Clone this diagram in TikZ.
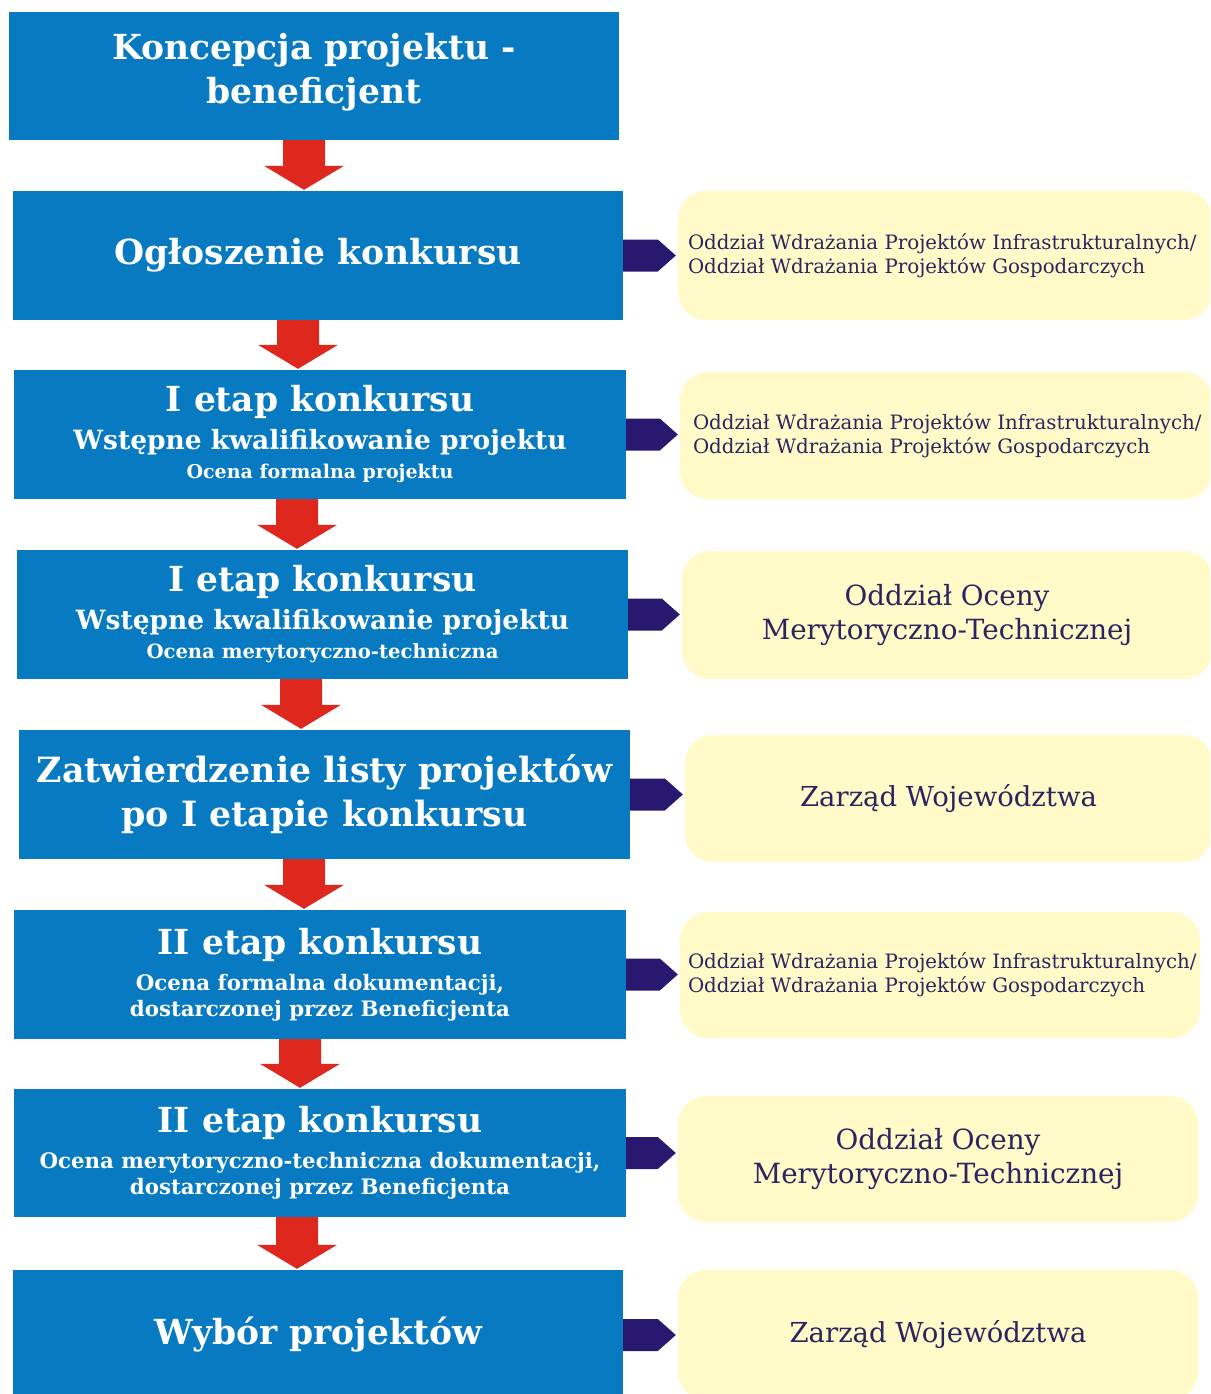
\documentclass[tikz,border=0pt]{standalone}
\usepackage{fontspec}
\setmainfont{DejaVu Serif}
\usetikzlibrary{calc}
\setlength\parindent{0pt}
\hfuzz=100pt
\definecolor{boxblue}{RGB}{8,122,193}
\definecolor{boxyellow}{RGB}{255,250,200}
\definecolor{arrred}{RGB}{222,40,30}
\definecolor{arrnavy}{RGB}{40,24,112}
\definecolor{txtnavy}{RGB}{45,35,95}
\newcommand\fsz[2]{\fontsize{#1}{#2}\selectfont}
\newcommand\wdrazanie{\fsz{19.8}{24}\mbox{Oddział Wdrażania Projektów Infrastrukturalnych/}\\\mbox{Oddział Wdrażania Projektów Gospodarczych}\par}
% red block arrow between two stages: from, to, x centre (pt)
\newcommand\flowarrow[3]{%
 \fill[arrred] let \p1=(#1.south), \p2=(#2.north) in
  ({#3pt-21pt},\y1) -- ({#3pt+21pt},\y1) -- ({#3pt+21pt},{\y2+25pt}) --
  ({#3pt+40pt},{\y2+25pt}) -- (#3pt,{\y2+1pt}) -- ({#3pt-40pt},{\y2+25pt}) --
  ({#3pt-21pt},{\y2+25pt}) -- cycle;}
% navy block arrow from a stage to its unit
\newcommand\sidearrow[2]{%
 \fill[arrnavy] let \p1=(#1.east), \p2=(#2.west) in
  (\x1,{\y1+16pt}) -- ({\x2-20pt},{\y1+16pt}) -- ({\x2-2pt},\y1) --
  ({\x2-20pt},{\y1-16pt}) -- (\x1,{\y1-16pt}) -- cycle;}
\begin{document}
\begin{tikzpicture}[x=1pt,y=-1pt,
 stage/.style={fill=boxblue, text=white, inner sep=0pt, font=\bfseries, align=flush center},
 unit/.style={fill=boxyellow, text=txtnavy, rounded corners=28pt, inner sep=0pt},
 unitl/.style={unit, align=flush left},
 unitc/.style={unit, align=flush center}]
\useasboundingbox (0,0) rectangle (1210,1394);
\clip (0,0) rectangle (1210,1394);
\fill[white] (0,0) rectangle (1210,1394);

% stages
\node[stage, minimum width=610pt, minimum height=128pt, text width=600pt] (b1) at (314,76)
 {\fsz{34.5}{44}Koncepcja projektu -\\beneficjent\par\vspace{8pt}};
\node[stage, minimum width=610pt, minimum height=129pt, text width=600pt] (b2) at (318,255.5)
 {\fsz{34.5}{44}Ogłoszenie konkursu\par};
\node[stage, minimum width=612pt, minimum height=129pt, text width=602pt] (b3) at (320,434.5)
 {\fsz{34.5}{44}I etap konkursu\par
  \fsz{26.5}{38}Wstępne kwalifikowanie projektu\par
  \fsz{19}{29}Ocena formalna projektu\par};
\node[stage, minimum width=611pt, minimum height=129pt, text width=601pt] (b4) at (322.5,614.5)
 {\fsz{34.5}{44}I etap konkursu\par
  \fsz{26.5}{38}Wstępne kwalifikowanie projektu\par
  \fsz{19.6}{29}Ocena merytoryczno-techniczna\par};
\node[stage, minimum width=611pt, minimum height=129pt, text width=601pt] (b5) at (324.5,794.5)
 {\fsz{34.8}{44}Zatwierdzenie listy projektów\\po I etapie konkursu\par};
\node[stage, minimum width=612pt, minimum height=129pt, text width=602pt] (b6) at (320,974.5)
 {\fsz{34.5}{44}II etap konkursu\par\vspace{10pt}
  \fsz{21.3}{26}Ocena formalna dokumentacji,\\dostarczonej przez Beneficjenta\par};
\node[stage, minimum width=612pt, minimum height=128pt, text width=602pt] (b7) at (320,1153)
 {\fsz{34.5}{44}II etap konkursu\par\vspace{10pt}
  \fsz{21.3}{26}Ocena merytoryczno-techniczna dokumentacji,\\dostarczonej przez Beneficjenta\par};
\node[stage, minimum width=610pt, minimum height=130pt, text width=600pt] (b8) at (318,1335)
 {\fsz{34.5}{44}Wybór projektów\par};

% units
\node[unitl, minimum width=534pt, minimum height=129pt, text width=514pt] (y2) at (945,255.5)
 {\wdrazanie};
\node[unitl, minimum width=532pt, minimum height=127pt, text width=506pt] (y3) at (946,435.5)
 {\wdrazanie};
\node[unitc, minimum width=530pt, minimum height=128pt, text width=510pt] (y4) at (947,615)
 {\fsz{27.8}{34}Oddział Oceny\\Merytoryczno-Technicznej\par};
\node[unitc, minimum width=527pt, minimum height=127pt, text width=507pt] (y5) at (948.5,798.5)
 {\fsz{27.5}{34}Zarząd Województwa\par};
\node[unitl, minimum width=520pt, minimum height=126pt, text width=504pt] (y6) at (940,975)
 {\wdrazanie};
\node[unitc, minimum width=520pt, minimum height=126pt, text width=500pt] (y7) at (938,1159)
 {\fsz{27.8}{34}Oddział Oceny\\Merytoryczno-Technicznej\par};
\node[unitc, minimum width=520pt, minimum height=130pt, text width=500pt] (y8) at (938,1335)
 {\fsz{27.5}{34}Zarząd Województwa\par};

% red flow arrows
\flowarrow{b1}{b2}{304}
\flowarrow{b2}{b3}{298}
\flowarrow{b3}{b4}{297}
\flowarrow{b4}{b5}{301}
\flowarrow{b5}{b6}{304}
\flowarrow{b6}{b7}{300}
\flowarrow{b7}{b8}{297}

% navy side arrows
\sidearrow{b2}{y2}
\sidearrow{b3}{y3}
\sidearrow{b4}{y4}
\sidearrow{b5}{y5}
\sidearrow{b6}{y6}
\sidearrow{b7}{y7}
\sidearrow{b8}{y8}
\end{tikzpicture}
\end{document}
